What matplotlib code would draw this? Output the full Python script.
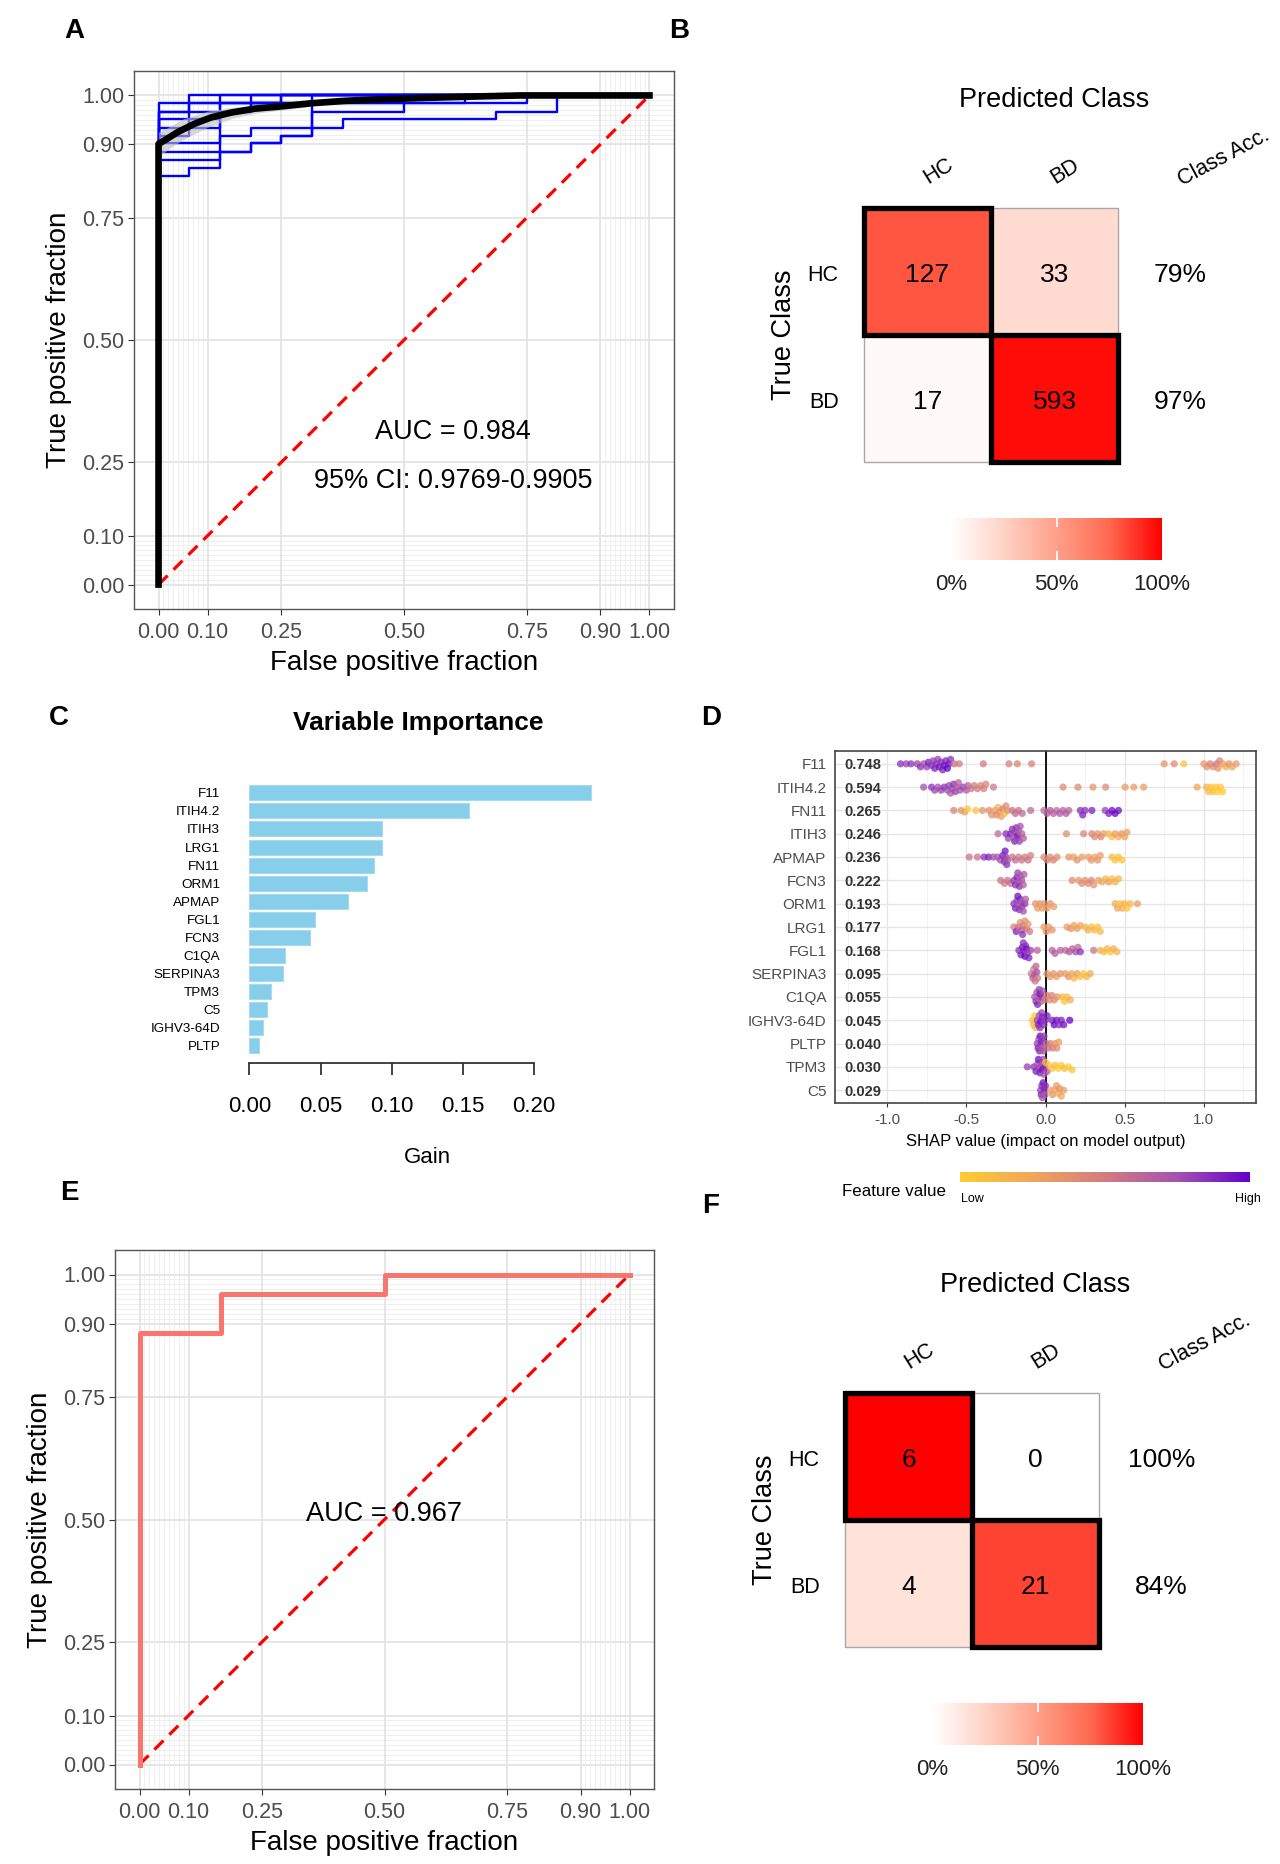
import matplotlib.pyplot as plt
import numpy as np
from matplotlib.colors import LinearSegmentedColormap
from matplotlib.patches import Rectangle

plt.rcParams['font.family'] = ['Liberation Sans', 'DejaVu Sans']

W, H = 1280, 1864

# ---------------- data ----------------
roc_ticks = [0, 0.1, 0.25, 0.5, 0.75, 0.9, 1]
roc_tick_labels = ['0.00', '0.10', '0.25', '0.50', '0.75', '0.90', '1.00']

# A: mean cross-validated ROC curve and its band
mean_fpr = [0, 0, 0.012, 0.039, 0.073, 0.107, 0.148, 0.196, 0.243, 0.311, 0.379, 0.447, 0.542, 0.65, 0.737, 1.0]
mean_tpr = [0, 0.901, 0.908, 0.925, 0.942, 0.955, 0.965, 0.973, 0.977, 0.984, 0.989, 0.992, 0.995, 0.998, 1.0, 1.0]
band_fpr = [0, 0.02, 0.05, 0.1, 0.15, 0.2, 0.25, 0.3]
band_low = [0.875, 0.89, 0.91, 0.935, 0.953, 0.964, 0.97, 0.976]
band_high = [0.925, 0.935, 0.952, 0.968, 0.976, 0.98, 0.983, 0.987]

# A: per-fold ROC curves (operating points)
fold_fpr = [
    [0, 0, 0.0625, 0.125, 0.25, 1],
    [0, 0, 0.125, 0.1875, 0.25, 0.3125, 0.375, 0.6875, 0.8125, 1],
    [0, 0, 0.1875, 0.25, 0.3125, 1],
    [0, 0, 0.125, 0.1875, 0.3125, 0.5, 0.75, 1],
    [0, 0, 0.0625, 0.125, 0.1875, 0.625, 1],
    [0, 0, 0.0625, 0.125, 0.1875, 0.5, 1],
    [0, 0, 0.0625, 0.25, 1],
    [0, 0, 0.125, 0.1875, 1],
    [0, 0, 0.0625, 1],
    [0, 0, 0.0625, 0.125, 1],
]
fold_tpr = [
    [0, 0.836, 0.852, 0.984, 1, 1],
    [0, 0.869, 0.885, 0.902, 0.918, 0.934, 0.951, 0.967, 1, 1],
    [0, 0.885, 0.902, 0.918, 1, 1],
    [0, 0.902, 0.918, 0.934, 0.967, 0.984, 1, 1],
    [0, 0.918, 0.934, 0.967, 0.984, 1, 1],
    [0, 0.934, 0.951, 0.967, 0.984, 1, 1],
    [0, 0.951, 0.984, 1, 1],
    [0, 0.967, 0.984, 1, 1],
    [0, 0.984, 1, 1],
    [0, 0.967, 0.984, 1, 1],
]
auc_a = 0.984
ci_a = (0.9769, 0.9905)

# B / F: confusion matrices (rows = true, cols = predicted)
classes = ['HC', 'BD']
cm_train = [[127, 33], [17, 593]]
cm_test = [[6, 0], [4, 21]]

# C: variable importance
imp_features = ['F11', 'ITIH4.2', 'ITIH3', 'LRG1', 'FN11', 'ORM1', 'APMAP', 'FGL1',
                'FCN3', 'C1QA', 'SERPINA3', 'TPM3', 'C5', 'IGHV3-64D', 'PLTP']
imp_gain = [0.2397, 0.1545, 0.0934, 0.0934, 0.0874, 0.0824, 0.0691, 0.0461,
            0.0428, 0.0253, 0.0234, 0.0150, 0.0126, 0.0094, 0.0066]

# D: SHAP summary
shap_features = ['F11', 'ITIH4.2', 'FN11', 'ITIH3', 'APMAP', 'FCN3', 'ORM1', 'LRG1',
                 'FGL1', 'SERPINA3', 'C1QA', 'IGHV3-64D', 'PLTP', 'TPM3', 'C5']
shap_mean_abs = ['0.748', '0.594', '0.265', '0.246', '0.236', '0.222', '0.193', '0.177',
                 '0.168', '0.095', '0.055', '0.045', '0.040', '0.030', '0.029']

f11_shap = [-0.916, -0.88, -0.85, -0.81, -0.79, -0.77, -0.75, -0.74, -0.72, -0.71, -0.70, -0.69, -0.68,
            -0.67, -0.66, -0.65, -0.64, -0.63, -0.62, -0.61, -0.60, -0.576, -0.545, -0.393, -0.231,
            -0.178, -0.088, 0.75, 0.813, 0.874, 1.00, 1.02, 1.04, 1.06, 1.08, 1.09, 1.10, 1.12, 1.14,
            1.16, 1.18, 1.205]
f11_val = [0.85, 0.8, 0.85, 0.8, 0.85, 0.75, 0.8, 0.9, 0.85, 0.8, 0.9, 0.85, 0.8, 0.95, 0.85, 0.9, 0.95,
           0.9, 1.0, 0.95, 0.85, 0.55, 0.5, 0.5, 0.45, 0.45, 0.45, 0.35, 0.4, 0.05, 0.3, 0.35, 0.45,
           0.4, 0.5, 0.35, 0.45, 0.3, 0.2, 0.35, 0.25, 0.3]
itih42_shap = [-0.77, -0.72, -0.70, -0.68, -0.66, -0.64, -0.62, -0.61, -0.60, -0.59, -0.58, -0.57, -0.56,
               -0.55, -0.54, -0.52, -0.50, -0.49, -0.47, -0.45, -0.43, -0.41, -0.39, -0.377, -0.329,
               0.111, 0.205, 0.30, 0.38, 0.503, 0.558, 0.62, 0.958, 1.017, 1.03, 1.045, 1.06, 1.075,
               1.09, 1.105, 1.12]
itih42_val = [0.75, 0.85, 0.8, 0.75, 0.8, 0.85, 0.75, 0.8, 0.7, 0.75, 0.85, 0.8, 0.7, 0.65, 0.75, 0.8,
              0.7, 0.65, 0.55, 0.5, 0.5, 0.45, 0.5, 0.45, 0.5, 0.4, 0.4, 0.35, 0.4, 0.3, 0.3, 0.3,
              0.25, 0.15, 0.1, 0.05, 0.1, 0.05, 0.0, 0.05, 0.0]
fn11_shap = [-0.58, -0.534, -0.51, -0.493, -0.44, -0.398, -0.356, -0.34, -0.32, -0.31, -0.30, -0.29,
             -0.28, -0.27, -0.26, -0.25, -0.241, -0.21, -0.19, -0.17, -0.147, -0.094, -0.01, 0.01,
             0.03, 0.05, 0.07, 0.09, 0.11, 0.13, 0.147, 0.22, 0.235, 0.25, 0.293, 0.377, 0.40, 0.42,
             0.44, 0.461]
fn11_val = [0.45, 0.35, 0.3, 0.05, 0.05, 0.35, 0.4, 0.35, 0.3, 0.4, 0.15, 0.35, 0.3, 0.45, 0.1, 0.4,
            0.35, 0.55, 0.6, 0.55, 0.6, 0.6, 0.6, 0.65, 0.7, 0.65, 0.6, 0.7, 0.65, 0.7, 0.65, 0.85,
            0.9, 0.85, 0.9, 0.8, 0.9, 0.95, 1.0, 0.95]
itih3_shap = [-0.30, -0.25, -0.235, -0.22, -0.21, -0.20, -0.195, -0.19, -0.185, -0.18, -0.175, -0.17,
              -0.165, -0.16, -0.15, -0.14, 0.132, 0.241, 0.293, 0.31, 0.33, 0.35, 0.367, 0.398, 0.42,
              0.44, 0.46, 0.48, 0.50, 0.514]
itih3_val = [0.6, 0.85, 0.8, 0.9, 0.85, 0.7, 0.9, 0.8, 0.85, 0.75, 0.9, 0.7, 0.8, 0.75, 0.65, 0.7, 0.4,
             0.45, 0.45, 0.4, 0.35, 0.45, 0.3, 0.15, 0.1, 0.3, 0.2, 0.35, 0.25, 0.3]
apmap_shap = [-0.482, -0.43, -0.388, -0.36, -0.33, -0.304, -0.285, -0.27, -0.26, -0.255, -0.25, -0.245,
              -0.24, -0.21, -0.19, -0.17, -0.15, -0.13, -0.11, -0.094, -0.01, 0.01, 0.03, 0.05, 0.073,
              0.147, 0.178, 0.20, 0.23, 0.272, 0.29, 0.31, 0.33, 0.346, 0.42, 0.44, 0.46, 0.482]
apmap_val = [0.55, 0.55, 0.85, 0.9, 0.75, 0.7, 0.75, 0.9, 0.85, 0.95, 0.8, 0.85, 0.75, 0.55, 0.6, 0.5,
             0.55, 0.5, 0.55, 0.5, 0.4, 0.45, 0.4, 0.45, 0.4, 0.35, 0.3, 0.35, 0.3, 0.3, 0.35, 0.25,
             0.35, 0.3, 0.1, 0.05, 0.1, 0.05]
fcn3_shap = [-0.283, -0.26, -0.24, -0.22, -0.20, -0.19, -0.18, -0.175, -0.17, -0.165, -0.16, -0.15,
             -0.14, -0.136, 0.168, 0.21, 0.23, 0.25, 0.27, 0.29, 0.304, 0.335, 0.36, 0.38, 0.40, 0.42,
             0.44, 0.461]
fcn3_val = [0.55, 0.5, 0.55, 0.6, 0.8, 0.85, 0.9, 0.8, 0.75, 0.85, 0.7, 0.75, 0.65, 0.7, 0.4, 0.35,
            0.4, 0.35, 0.4, 0.45, 0.35, 0.3, 0.25, 0.15, 0.3, 0.1, 0.2, 0.15]
orm1_shap = [-0.20, -0.19, -0.18, -0.175, -0.17, -0.165, -0.16, -0.155, -0.15, -0.14, -0.13, -0.126,
             -0.063, -0.05, -0.035, -0.02, -0.005, 0.01, 0.03, 0.052, 0.44, 0.455, 0.47, 0.485, 0.50,
             0.515, 0.535, 0.581]
orm1_val = [0.85, 0.9, 0.8, 0.95, 0.75, 0.85, 0.9, 0.7, 0.8, 0.75, 0.85, 0.7, 0.35, 0.3, 0.35, 0.3,
            0.35, 0.3, 0.35, 0.3, 0.2, 0.25, 0.1, 0.2, 0.15, 0.05, 0.15, 0.3]
lrg1_shap = [-0.20, -0.185, -0.17, -0.16, -0.15, -0.145, -0.14, -0.13, -0.12, -0.11, -0.10, -0.01,
             0.005, 0.02, 0.042, 0.136, 0.16, 0.18, 0.20, 0.22, 0.25, 0.27, 0.29, 0.31, 0.33, 0.346]
lrg1_val = [0.45, 0.9, 0.6, 0.35, 0.7, 0.85, 0.5, 0.4, 0.55, 0.3, 0.5, 0.3, 0.35, 0.3, 0.35, 0.3,
            0.35, 0.25, 0.3, 0.25, 0.15, 0.2, 0.1, 0.15, 0.05, 0.1]
fgl1_shap = [-0.168, -0.155, -0.145, -0.14, -0.135, -0.13, -0.125, -0.12, -0.115, -0.105, -0.094,
             -0.052, 0.042, 0.06, 0.094, 0.126, 0.15, 0.17, 0.19, 0.205, 0.22, 0.304, 0.346, 0.37,
             0.39, 0.41, 0.43, 0.451]
fgl1_val = [0.85, 0.9, 0.95, 0.85, 0.9, 1.0, 0.85, 0.95, 0.8, 0.9, 0.8, 0.65, 0.65, 0.7, 0.65, 0.6,
            0.7, 0.65, 0.75, 0.6, 0.85, 0.55, 0.2, 0.1, 0.15, 0.05, 0.2, 0.15]
serpina3_shap = [-0.09, -0.08, -0.075, -0.07, -0.065, -0.06, -0.055, -0.05, 0.01, 0.03, 0.05, 0.07,
                 0.094, 0.126, 0.145, 0.165, 0.18, 0.20, 0.22, 0.24, 0.26, 0.283]
serpina3_val = [0.5, 0.65, 0.45, 0.7, 0.55, 0.6, 0.75, 0.5, 0.35, 0.3, 0.35, 0.3, 0.35, 0.3, 0.35,
                0.25, 0.15, 0.3, 0.1, 0.05, 0.15, 0.2]
c1qa_shap = [-0.068, -0.06, -0.055, -0.05, -0.045, -0.04, -0.035, -0.03, -0.025, -0.02, -0.005, 0.01,
             0.025, 0.04, 0.055, 0.073, 0.105, 0.12, 0.135, 0.157]
c1qa_val = [0.75, 0.85, 0.7, 0.9, 0.65, 0.8, 0.95, 0.7, 0.85, 0.75, 0.5, 0.45, 0.4, 0.45, 0.4, 0.35,
            0.15, 0.05, 0.1, 0.2]
ighv_shap = [-0.083, -0.075, -0.068, -0.063, -0.052, -0.045, -0.04, -0.035, -0.03, -0.025, -0.02,
             -0.01, 0.0, 0.01, 0.042, 0.055, 0.07, 0.085, 0.1, 0.115, 0.153]
ighv_val = [0.05, 0.1, 0.0, 0.1, 0.8, 0.9, 0.75, 0.85, 0.95, 0.8, 0.9, 0.85, 0.85, 0.9, 0.9, 1.0,
            0.95, 0.85, 0.9, 0.95, 1.0]
pltp_shap = [-0.052, -0.047, -0.042, -0.038, -0.034, -0.03, -0.026, -0.022, -0.018, -0.014, -0.01,
             0.005, 0.015, 0.031, 0.045, 0.06, 0.072, 0.084]
pltp_val = [0.8, 0.9, 0.75, 0.85, 0.95, 0.8, 0.9, 0.7, 0.85, 0.75, 0.8, 0.6, 0.55, 0.45, 0.5, 0.35,
            0.4, 0.3]
tpm3_shap = [-0.115, -0.073, -0.06, -0.05, -0.045, -0.04, -0.035, -0.03, -0.025, -0.02, -0.015, -0.01,
             -0.005, 0.0, 0.01, 0.02, 0.042, 0.06, 0.08, 0.1, 0.12, 0.145, 0.168]
tpm3_val = [0.8, 0.85, 0.9, 0.75, 0.95, 0.8, 0.9, 0.85, 0.7, 0.95, 0.8, 0.75, 0.9, 0.1, 0.7, 0.05,
            0.05, 0.1, 0.0, 0.05, 0.1, 0.0, 0.05]
c5_shap = [-0.031, -0.027, -0.023, -0.019, -0.015, -0.011, -0.007, -0.003, 0.0, 0.031, 0.045, 0.06,
           0.07, 0.08, 0.09, 0.1, 0.115]
c5_val = [0.8, 0.9, 0.85, 0.75, 0.95, 0.8, 0.9, 0.7, 0.85, 0.3, 0.35, 0.25, 0.3, 0.2, 0.35, 0.25, 0.3]

shap_rows = [(f11_shap, f11_val), (itih42_shap, itih42_val), (fn11_shap, fn11_val),
             (itih3_shap, itih3_val), (apmap_shap, apmap_val), (fcn3_shap, fcn3_val),
             (orm1_shap, orm1_val), (lrg1_shap, lrg1_val), (fgl1_shap, fgl1_val),
             (serpina3_shap, serpina3_val), (c1qa_shap, c1qa_val), (ighv_shap, ighv_val),
             (pltp_shap, pltp_val), (tpm3_shap, tpm3_val), (c5_shap, c5_val)]

# E: test-set ROC
test_fpr = [0, 0, 1 / 6, 0.5, 1]
test_tpr = [0, 0.88, 0.96, 1.0, 1.0]
auc_e = 0.967

# ---------------- helpers ----------------
fig = plt.figure(figsize=(W / 100, H / 100), dpi=100)


def box(l, t, r, b):
    return [l / W, 1 - b / H, (r - l) / W, (b - t) / H]


red_cmap = LinearSegmentedColormap.from_list(
    'wr', [(0, '#FFFFFF'), (0.25, '#FFD3C6'), (0.5, '#FFA08A'), (0.75, '#FF6A50'), (1, '#FF0000')])
shap_cmap = LinearSegmentedColormap.from_list(
    'shap', [(0, '#FFCC33'), (0.25, '#F0A65C'), (0.5, '#D27C80'), (0.75, '#A653AE'), (1, '#6600CC')])


def roc_style(ax):
    ax.set_xlim(-0.05, 1.05)
    ax.set_ylim(-0.05, 1.05)
    minor = [i / 100 for i in range(1, 10)] + [i / 100 for i in range(91, 100)]
    for v in minor:
        ax.axvline(v, color='#EFEFEF', lw=0.7, zorder=0)
        ax.axhline(v, color='#EFEFEF', lw=0.7, zorder=0)
    for v in roc_ticks:
        ax.axvline(v, color='#E4E4E4', lw=1.3, zorder=0)
        ax.axhline(v, color='#E4E4E4', lw=1.3, zorder=0)
    ax.set_xticks(roc_ticks)
    ax.set_xticklabels(roc_tick_labels)
    ax.set_yticks(roc_ticks)
    ax.set_yticklabels(roc_tick_labels)
    ax.tick_params(length=4, width=0.8, color='#333333', labelsize=15.5,
                   labelcolor='#4D4D4D', pad=3)
    ax.tick_params(axis='x', pad=5.5)
    for s in ax.spines.values():
        s.set_color('#555555')
        s.set_linewidth(1.0)
    ax.plot([0, 1], [0, 1], color='red', ls=(0, (4, 2.6)), lw=2.3, zorder=3)
    ax.set_xlabel('False positive fraction', fontsize=20, labelpad=5)
    ax.set_ylabel('True positive fraction', fontsize=20, labelpad=7)


def conf_matrix(left, top, counts):
    counts = np.array(counts, dtype=float)
    cell = 127
    dy = 0.03  # optical centring of digits
    frac = counts / counts.sum(axis=1, keepdims=True)
    ax = fig.add_axes(box(left, top, left + 2 * cell, top + 2 * cell))
    ax.pcolormesh([0, 1, 2], [0, 1, 2], frac, cmap=red_cmap, vmin=0, vmax=1)
    ax.set_xlim(0, 2)
    ax.set_ylim(2, 0)
    ax.axis('off')
    for i in range(2):
        for j in range(2):
            if i != j:
                ax.add_patch(Rectangle((j, i), 1, 1, fill=False, ec='#A8A8A8', lw=1.0, clip_on=False))
    for i in range(2):
        ax.add_patch(Rectangle((i, i), 1, 1, fill=False, ec='black', lw=3.8, clip_on=False, zorder=5))
    for i in range(2):
        for j in range(2):
            ax.text(j + 0.5, i + 0.5 + dy, f'{int(counts[i, j])}', ha='center', va='center', fontsize=19)
        acc = 100 * counts[i, i] / counts[i].sum()
        ax.text(2.49, i + 0.5 + dy, f'{acc:.0f}%', ha='center', va='center', fontsize=19, clip_on=False)
        ax.text(-0.2, i + 0.5 + dy, classes[i], ha='right', va='center', fontsize=15.5, clip_on=False)
    ax.text(-0.63, 1.0, 'True Class', rotation=90, ha='center', va='center', fontsize=19.5)
    ax.text(1.5, -0.85, 'Predicted Class', ha='center', va='center', fontsize=19.5)
    ax.text(0.59, -0.29, classes[0], rotation=32, ha='center', va='center', fontsize=15.5,
            rotation_mode='anchor')
    ax.text(1.58, -0.29, classes[1], rotation=32, ha='center', va='center', fontsize=15.5,
            rotation_mode='anchor')
    ax.text(2.83, -0.4, 'Class Acc.', rotation=28, ha='center', va='center', fontsize=15.5,
            rotation_mode='anchor')
    # colour bar
    cb = fig.add_axes(box(left + 87, top + 2 * cell + 56, left + 87 + 211, top + 2 * cell + 98))
    cb.imshow(np.linspace(0, 1, 256)[None, :], aspect='auto', cmap=red_cmap, extent=[0, 1, 0, 1])
    cb.set_xlim(0, 1)
    cb.set_ylim(0, 1)
    cb.axis('off')
    cb.plot([0.5, 0.5], [0, 0.2], color='white', lw=1.3)
    cb.plot([0.5, 0.5], [0.8, 1], color='white', lw=1.3)
    for v, lab in zip([0, 0.5, 1], ['0%', '50%', '100%']):
        cb.text(v, -0.58, lab, ha='center', va='center', fontsize=16, color='#222222', clip_on=False)


def swarm_offsets(xs, px_x=159.0, px_row=23.4, dmin=4.0, step=1.5, maxoff=8.5):
    xs = np.asarray(xs)
    placed = []
    offs = np.zeros(len(xs))
    cands = [0.0]
    k = 1
    while k * step <= maxoff:
        cands += [k * step, -k * step]
        k += 1
    for i in np.argsort(xs):
        xp = xs[i] * px_x
        best, bestd = 0.0, -1
        for c in cands:
            d = min((np.hypot(xp - a, c - b) for a, b in placed), default=1e9)
            if d >= dmin:
                best = c
                break
            if d > bestd:
                best, bestd = c, d
        placed.append((xp, best))
        offs[i] = best / px_row
    return offs


# ---------------- A ----------------
axA = fig.add_axes(box(134, 71, 674, 609))
roc_style(axA)
for fx, fy in zip(fold_fpr, fold_tpr):
    axA.step(fx, fy, where='post', color='#0000FF', lw=1.7, zorder=4)
axA.fill_between(band_fpr, band_low, band_high, color='#BDBDBD', alpha=0.6, lw=0, zorder=4)
axA.plot(mean_fpr, mean_tpr, color='black', lw=4.8, zorder=6, solid_joinstyle='round')
axA.text(0.6, 0.312, f'AUC = {auc_a:.3f}', ha='center', va='center', fontsize=19.5)
axA.text(0.6, 0.212, f'95% CI: {ci_a[0]:.4f}-{ci_a[1]:.4f}', ha='center', va='center', fontsize=19.5)

# ---------------- B ----------------
conf_matrix(864, 208, cm_train)

# ---------------- C ----------------
axC = fig.add_axes(box(249.3, 782, 605.3, 1063))
ypos = [14 - i for i in range(len(imp_features))]
axC.barh(ypos, imp_gain, height=0.83, color='#87CEEB', edgecolor='#A5DAF0', lw=0.8)
axC.set_xlim(0, 0.25)
axC.set_ylim(-0.957, 14.6)
for s in ['left', 'top', 'right']:
    axC.spines[s].set_visible(False)
axC.spines['bottom'].set_bounds(0, 0.2)
axC.spines['bottom'].set_color('#333333')
axC.spines['bottom'].set_linewidth(1.3)
axC.set_xticks([0, 0.05, 0.1, 0.15, 0.2])
axC.set_xticklabels(['0.00', '0.05', '0.10', '0.15', '0.20'])
axC.tick_params(axis='x', length=8.6, width=1.3, color='#333333', labelsize=16, pad=15)
axC.set_yticks(ypos)
axC.set_yticklabels(imp_features)
axC.tick_params(axis='y', length=0, labelsize=9.7, pad=21)
axC.set_xlabel('Gain', fontsize=16, labelpad=22)
fig.text(418 / W, 1 - 723 / H, 'Variable Importance', ha='center', va='center',
         fontsize=19, fontweight='bold')

# ---------------- D ----------------
axD = fig.add_axes(box(835, 751, 1256, 1103))
axD.set_xlim(-1.33, 1.33)
axD.set_ylim(14.55, -0.55)
for v in [-1.25, -0.75, -0.25, 0.25, 0.75, 1.25]:
    axD.axvline(v, color='#F2F2F2', lw=0.7, zorder=0)
for v in [-1, -0.5, 0, 0.5, 1]:
    axD.axvline(v, color='#E6E6E6', lw=1.0, zorder=0)
for i in range(len(shap_features)):
    axD.axhline(i, color='#E6E6E6', lw=1.0, zorder=0)
axD.axvline(0, color='#111111', lw=1.4, zorder=1)
for i, (sx, sv) in enumerate(shap_rows):
    off = swarm_offsets(sx)
    axD.scatter(sx, i + off, c=sv, cmap=shap_cmap, vmin=0, vmax=1, s=27, alpha=0.75,
                linewidths=0, zorder=3)
    axD.text(-1.27, i + 0.06, shap_mean_abs[i], ha='left', va='center', fontsize=10.5,
             fontweight='bold', color='#333333')
axD.set_yticks(range(len(shap_features)))
axD.set_yticklabels(shap_features)
axD.set_xticks([-1, -0.5, 0, 0.5, 1])
axD.set_xticklabels(['-1.0', '-0.5', '0.0', '0.5', '1.0'])
axD.tick_params(axis='y', length=0, labelsize=11, labelcolor='#4D4D4D', pad=6)
axD.tick_params(axis='x', length=3, width=0.8, color='#333333', labelsize=11,
                labelcolor='#4D4D4D', pad=4.5)
for s in axD.spines.values():
    s.set_color('#444444')
    s.set_linewidth(1.2)
axD.set_xlabel('SHAP value (impact on model output)', fontsize=12, labelpad=5)

cbD = fig.add_axes(box(960, 1172, 1250, 1182))
cbD.imshow(np.linspace(0, 1, 256)[None, :], aspect='auto', cmap=shap_cmap, extent=[0, 1, 0, 1])
cbD.axis('off')
fig.text(946 / W, 1 - 1191 / H, 'Feature value', ha='right', va='center', fontsize=12.2)
fig.text(961 / W, 1 - 1199 / H, 'Low', ha='left', va='center', fontsize=9)
fig.text(1261 / W, 1 - 1199 / H, 'High', ha='right', va='center', fontsize=9)

# ---------------- E ----------------
axE = fig.add_axes(box(115, 1250, 654, 1789))
roc_style(axE)
axE.step(test_fpr, test_tpr, where='post', color='#F8766D', lw=3.6, zorder=4)
axE.text(0.5, 0.512, f'AUC = {auc_e:.3f}', ha='center', va='center', fontsize=19.5, zorder=5)

# ---------------- F ----------------
conf_matrix(845, 1393, cm_test)

# panel letters
for lab, x, y in [('A', 74, 31), ('B', 679, 31), ('C', 59, 718), ('D', 711, 718),
                  ('E', 69, 1193), ('F', 711, 1206)]:
    fig.text(x / W, 1 - y / H, lab, ha='center', va='center', fontsize=20, fontweight='bold')

fig.savefig('out.png', dpi=100)
